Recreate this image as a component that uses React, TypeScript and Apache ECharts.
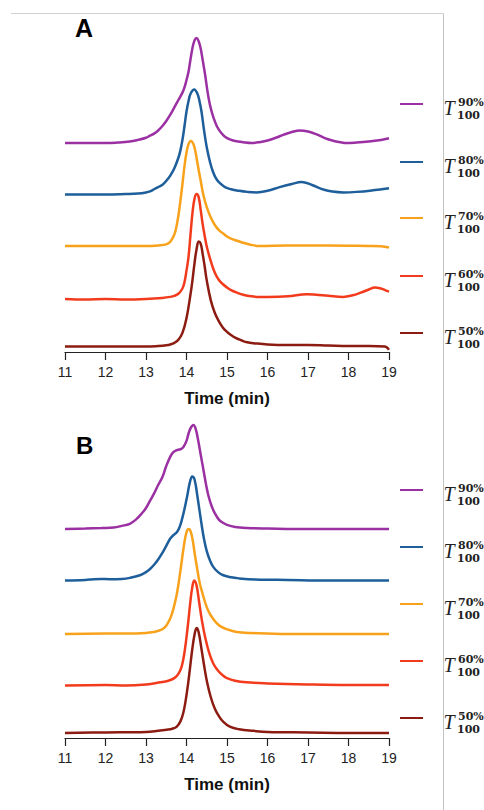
import React, { useEffect, useRef } from "react";
import * as echarts from "echarts";

// ---------- data (time in min, normalized intensity) ----------
const xTicks = [11, 12, 13, 14, 15, 16, 17, 18, 19];
const seriesNames = ["T90", "T80", "T70", "T60", "T50"];
const seriesColors = ["#9b30a3", "#1d5e9b", "#f8a21c", "#f23b1d", "#8c1c12"];
const legendSup = ["90%", "80%", "70%", "60%", "50%"];
const legendSub = "100";

// Panel A
const offsetsA = [1.99, 1.5, 1.01, 0.505, 0.052];
const purpleA_t = [11, 11.5, 12, 12.3, 12.6, 12.8, 13.0, 13.1, 13.2, 13.3, 13.4, 13.5, 13.6, 13.7, 13.8, 13.9, 13.95, 14.0, 14.05, 14.1, 14.15, 14.2, 14.25, 14.3, 14.35, 14.4, 14.46, 14.5, 14.55, 14.6, 14.66, 14.75, 14.85, 14.95, 15.07, 15.2, 15.4, 15.6, 15.8, 16.0, 16.2, 16.4, 16.6, 16.8, 17.0, 17.2, 17.4, 17.6, 17.8, 17.95, 18.2, 18.5, 18.8, 19];
const purpleA_v = [0, 0, 0, 0.005, 0.015, 0.03, 0.05, 0.07, 0.09, 0.12, 0.16, 0.21, 0.27, 0.34, 0.41, 0.48, 0.53, 0.6, 0.68, 0.8, 0.91, 0.98, 1.0, 0.97, 0.9, 0.79, 0.65, 0.54, 0.42, 0.33, 0.25, 0.16, 0.1, 0.06, 0.035, 0.02, 0.008, 0.0, 0.008, 0.025, 0.05, 0.08, 0.105, 0.12, 0.11, 0.085, 0.05, 0.025, 0.008, 0.0, 0.005, 0.015, 0.03, 0.045];
const blueA_t = [11, 11.5, 12, 12.5, 12.8, 13.0, 13.1, 13.2, 13.3, 13.4, 13.5, 13.6, 13.7, 13.8, 13.85, 13.9, 13.95, 14.0, 14.05, 14.1, 14.19, 14.27, 14.32, 14.37, 14.43, 14.5, 14.58, 14.66, 14.75, 14.85, 14.95, 15.1, 15.3, 15.5, 15.73, 16.0, 16.3, 16.6, 16.84, 17.1, 17.4, 17.6, 17.87, 18.2, 18.6, 19];
const blueA_v = [0, 0, 0, 0.005, 0.01, 0.02, 0.03, 0.05, 0.07, 0.09, 0.13, 0.18, 0.25, 0.35, 0.42, 0.52, 0.65, 0.79, 0.89, 0.96, 1.0, 0.96, 0.89, 0.79, 0.62, 0.45, 0.31, 0.21, 0.14, 0.1, 0.07, 0.05, 0.035, 0.025, 0.02, 0.035, 0.07, 0.1, 0.12, 0.09, 0.045, 0.028, 0.02, 0.025, 0.04, 0.06];
const orangeA_t = [11, 12, 13.0, 13.3, 13.5, 13.6, 13.7, 13.75, 13.8, 13.85, 13.9, 13.95, 14.0, 14.05, 14.11, 14.17, 14.22, 14.27, 14.35, 14.42, 14.5, 14.6, 14.7, 14.8, 14.9, 15.0, 15.1, 15.25, 15.4, 15.6, 15.8, 16.5, 17.5, 18.5, 18.8, 19];
const orangeA_v = [0, 0, 0, 0.005, 0.015, 0.04, 0.11, 0.18, 0.29, 0.43, 0.59, 0.76, 0.89, 0.97, 1.0, 0.97, 0.9, 0.79, 0.62, 0.48, 0.37, 0.27, 0.2, 0.15, 0.12, 0.09, 0.07, 0.05, 0.03, 0.01, 0.0, 0.005, 0.005, 0.0, -0.003, -0.015];
const redA_t = [11, 11.5, 12, 12.5, 13, 13.4, 13.6, 13.7, 13.8, 13.9, 13.95, 14.0, 14.05, 14.1, 14.15, 14.2, 14.25, 14.3, 14.35, 14.4, 14.45, 14.5, 14.6, 14.7, 14.8, 14.9, 15.0, 15.1, 15.25, 15.4, 15.6, 15.8, 16.0, 16.5, 16.97, 17.2, 17.5, 17.87, 18.1, 18.3, 18.5, 18.65, 18.8, 18.9, 19];
const redA_v = [0, -0.005, 0, -0.005, 0, 0.01, 0.02, 0.03, 0.05, 0.1, 0.16, 0.27, 0.4, 0.62, 0.83, 0.96, 1.0, 0.97, 0.85, 0.71, 0.6, 0.5, 0.36, 0.25, 0.18, 0.14, 0.11, 0.085, 0.06, 0.04, 0.025, 0.02, 0.02, 0.025, 0.045, 0.04, 0.03, 0.02, 0.035, 0.06, 0.09, 0.11, 0.1, 0.085, 0.07];
const darkA_t = [11, 12, 13.0, 13.3, 13.5, 13.6, 13.7, 13.8, 13.9, 14.0, 14.1, 14.15, 14.2, 14.25, 14.3, 14.35, 14.4, 14.45, 14.5, 14.6, 14.7, 14.8, 14.9, 15.0, 15.1, 15.2, 15.35, 15.5, 15.7, 16.0, 16.5, 17.0, 17.5, 18.0, 18.5, 18.9, 19];
const darkA_v = [0, 0, 0, 0.005, 0.012, 0.02, 0.035, 0.065, 0.13, 0.27, 0.5, 0.64, 0.8, 0.93, 1.0, 0.98, 0.88, 0.76, 0.63, 0.44, 0.32, 0.24, 0.18, 0.14, 0.11, 0.085, 0.06, 0.04, 0.03, 0.02, 0.015, 0.015, 0.01, 0.005, 0.005, 0.0, -0.03];

// Panel B
const offsetsB = [1.99, 1.5, 0.99, 0.50, 0.048];
const purpleB_t = [11, 11.5, 11.9, 12.2, 12.4, 12.6, 12.75, 12.9, 13.0, 13.1, 13.2, 13.3, 13.4, 13.5, 13.6, 13.67, 13.75, 13.85, 13.92, 14.0, 14.05, 14.1, 14.17, 14.23, 14.29, 14.35, 14.42, 14.48, 14.54, 14.62, 14.7, 14.8, 14.9, 15.0, 15.2, 15.5, 16, 17, 18, 19];
const purpleB_v = [0, 0.005, 0.01, 0.015, 0.03, 0.05, 0.09, 0.15, 0.2, 0.27, 0.34, 0.42, 0.49, 0.6, 0.69, 0.73, 0.75, 0.76, 0.78, 0.84, 0.91, 0.96, 0.99, 0.95, 0.84, 0.71, 0.56, 0.43, 0.32, 0.22, 0.15, 0.09, 0.06, 0.04, 0.02, 0.01, 0.005, 0.0, 0.0, 0.0];
const blueB_t = [11, 11.5, 11.7, 11.9, 12.1, 12.4, 12.6, 12.85, 13.0, 13.1, 13.2, 13.3, 13.4, 13.5, 13.6, 13.7, 13.76, 13.82, 13.88, 13.95, 14.02, 14.08, 14.14, 14.2, 14.27, 14.32, 14.37, 14.43, 14.5, 14.58, 14.66, 14.78, 14.91, 15.1, 15.3, 15.7, 16.5, 17.5, 19];
const blueB_v = [0, 0.005, 0.012, 0.015, 0.012, 0.015, 0.025, 0.05, 0.08, 0.11, 0.15, 0.2, 0.26, 0.33, 0.4, 0.44, 0.46, 0.5, 0.57, 0.68, 0.81, 0.93, 0.99, 0.96, 0.8, 0.67, 0.54, 0.4, 0.28, 0.19, 0.13, 0.08, 0.05, 0.03, 0.02, 0.01, 0.005, 0.0, 0.0];
const orangeB_t = [11, 12, 12.5, 13.0, 13.2, 13.3, 13.4, 13.5, 13.6, 13.67, 13.75, 13.8, 13.86, 13.92, 13.97, 14.02, 14.06, 14.1, 14.15, 14.19, 14.26, 14.33, 14.4, 14.47, 14.54, 14.63, 14.73, 14.83, 15.0, 15.24, 15.6, 16.5, 19];
const orangeB_v = [0, 0.005, 0.005, 0.01, 0.02, 0.03, 0.045, 0.08, 0.15, 0.23, 0.36, 0.47, 0.63, 0.8, 0.92, 0.99, 1.0, 0.98, 0.9, 0.8, 0.63, 0.48, 0.38, 0.29, 0.22, 0.16, 0.11, 0.075, 0.045, 0.02, 0.01, 0.0, 0.0];
const redB_t = [11, 12, 12.5, 13, 13.35, 13.55, 13.7, 13.8, 13.88, 13.94, 14.0, 14.05, 14.09, 14.14, 14.19, 14.25, 14.31, 14.38, 14.46, 14.56, 14.66, 14.78, 14.9, 15.0, 15.2, 15.48, 16, 17, 18, 19];
const redB_v = [0, 0.005, 0, 0.01, 0.03, 0.045, 0.07, 0.11, 0.18, 0.29, 0.46, 0.63, 0.78, 0.93, 1.0, 0.95, 0.8, 0.62, 0.46, 0.31, 0.21, 0.14, 0.095, 0.07, 0.045, 0.03, 0.02, 0.01, 0.005, 0.005];
const darkB_t = [11, 12, 13, 13.3, 13.51, 13.65, 13.76, 13.85, 13.92, 13.98, 14.04, 14.09, 14.14, 14.2, 14.25, 14.3, 14.37, 14.44, 14.51, 14.6, 14.7, 14.8, 14.9, 15.07, 15.3, 15.65, 16, 17, 18, 19];
const darkB_v = [0, 0.005, 0.01, 0.02, 0.03, 0.04, 0.06, 0.11, 0.19, 0.31, 0.47, 0.63, 0.79, 0.94, 1.0, 0.96, 0.8, 0.63, 0.48, 0.34, 0.23, 0.16, 0.11, 0.06, 0.035, 0.02, 0.01, 0.005, 0.0, 0.0];

const panelA_t = [purpleA_t, blueA_t, orangeA_t, redA_t, darkA_t];
const panelA_v = [purpleA_v, blueA_v, orangeA_v, redA_v, darkA_v];
const panelB_t = [purpleB_t, blueB_t, orangeB_t, redB_t, darkB_t];
const panelB_v = [purpleB_v, blueB_v, orangeB_v, redB_v, darkB_v];

// ---------- layout ----------
const W = 484;
const H = 810;
const GRID_LEFT = 65;
const GRID_W = 324;
const GRID_H = 322;
const GRID_TOP_A = 30;
const GRID_TOP_B = 416;
const Y_MAX = 322 / 105;
const legendYA = [104, 162, 218, 276, 333];
const legendYB = [490, 547, 604, 661, 718];

function makeXAxis(gridIndex: number) {
  return {
    type: "value",
    gridIndex,
    min: xTicks[0],
    max: xTicks[xTicks.length - 1],
    interval: 1,
    name: "Time (min)",
    nameLocation: "middle",
    nameGap: 38,
    nameTextStyle: { fontFamily: "Liberation Sans, Arial, sans-serif", fontWeight: "bold", fontSize: 17, color: "#111" },
    axisLine: { show: true, lineStyle: { color: "#222", width: 1.2 } },
    axisTick: { show: true, length: 8, inside: false, lineStyle: { color: "#222", width: 1.2 } },
    axisLabel: { margin: 13, fontFamily: "Liberation Sans, Arial, sans-serif", fontSize: 14, color: "#222", formatter: (v: number) => String(v) },
    splitLine: { show: false },
  };
}

function makeYAxis(gridIndex: number) {
  return {
    type: "value",
    gridIndex,
    min: 0,
    max: Y_MAX,
    show: false,
    splitLine: { show: false },
  };
}

function legendGraphics(ys: number[]) {
  const els: any[] = [];
  ys.forEach((y, i) => {
    els.push({
      type: "line",
      shape: { x1: 400, y1: y, x2: 423, y2: y },
      style: { stroke: seriesColors[i], lineWidth: 2 },
    });
    els.push({
      type: "text",
      x: 443.5,
      y: y + 4,
      style: { text: "T", font: "italic 20px 'Liberation Serif', serif", fill: "#222", textAlign: "left", align: "left", textVerticalAlign: "middle", verticalAlign: "middle" },
    });
    els.push({
      type: "text",
      x: 458,
      y: y - 2,
      style: { text: legendSup[i], font: "bold 11px 'DejaVu Serif', serif", fill: "#222", textAlign: "left", align: "left", textVerticalAlign: "middle", verticalAlign: "middle" },
    });
    els.push({
      type: "text",
      x: 457,
      y: y + 11,
      style: { text: legendSub, font: "bold 11px 'DejaVu Serif', serif", fill: "#222", textAlign: "left", align: "left", textVerticalAlign: "middle", verticalAlign: "middle" },
    });
  });
  return els;
}

export default function App() {
  const ref = useRef<HTMLDivElement>(null);
  useEffect(() => {
    if (!ref.current) return;
    const chart = echarts.init(ref.current, null, { renderer: "svg" });

    const series: any[] = [];
    const addPanel = (ts: number[][], vs: number[][], offs: number[], idx: number) => {
      ts.forEach((t, i) => {
        series.push({
          type: "line",
          name: seriesNames[i] + (idx === 0 ? "A" : "B"),
          xAxisIndex: idx,
          yAxisIndex: idx,
          data: t.map((x, k) => [x, offs[i] + vs[i][k]]),
          smooth: 0.4,
          showSymbol: false,
          symbol: "none",
          lineStyle: { color: seriesColors[i], width: 2.5 },
          itemStyle: { color: seriesColors[i] },
          z: 2 + i,
        });
      });
    };
    addPanel(panelA_t, panelA_v, offsetsA, 0);
    addPanel(panelB_t, panelB_v, offsetsB, 1);

    chart.setOption({
      animation: false,
      backgroundColor: "#ffffff",
      grid: [
        { left: GRID_LEFT, top: GRID_TOP_A, width: GRID_W, height: GRID_H },
        { left: GRID_LEFT, top: GRID_TOP_B, width: GRID_W, height: GRID_H },
      ],
      xAxis: [makeXAxis(0), makeXAxis(1)],
      yAxis: [makeYAxis(0), makeYAxis(1)],
      series,
      graphic: [
        { type: "line", shape: { x1: 11, y1: 13.5, x2: 443.5, y2: 13.5 }, style: { stroke: "#d0d0d0", lineWidth: 1 } },
        { type: "line", shape: { x1: 443.5, y1: 13.5, x2: 443.5, y2: 810 }, style: { stroke: "#c4c4c4", lineWidth: 1 } },
        { type: "text", x: 75, y: 28, style: { text: "A", font: "bold 25px 'Liberation Sans', Arial, sans-serif", fill: "#000", textVerticalAlign: "middle", verticalAlign: "middle" } },
        { type: "text", x: 76, y: 445, style: { text: "B", font: "bold 24px 'Liberation Sans', Arial, sans-serif", fill: "#000", textVerticalAlign: "middle", verticalAlign: "middle" } },
        ...legendGraphics(legendYA),
        ...legendGraphics(legendYB),
      ],
    });
    return () => chart.dispose();
  }, []);

  return <div ref={ref} style={{ position: "fixed", left: 0, top: 0, width: W, height: H }} />;
}
